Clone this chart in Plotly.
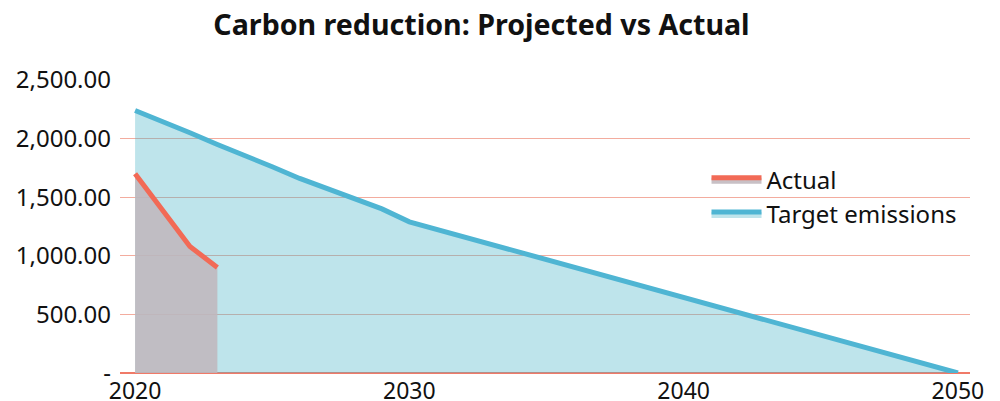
import plotly.graph_objects as go

years_target = list(range(2020, 2051))
target_emissions = [2240, 2150, 2050, 1950, 1860, 1760, 1660, 1570, 1485, 1400, 1290,
                    1225, 1160, 1095, 1030, 965, 900, 835, 770, 705, 640,
                    575, 510, 450, 385, 320, 255, 190, 125, 65, 0]
years_actual = [2020, 2021, 2022, 2023]
actual = [1700, 1390, 1080, 900]

y_tickvals = [0, 500, 1000, 1500, 2000, 2500]
y_ticktext = ["-", "500.00", "1,000.00", "1,500.00", "2,000.00", "2,500.00"]
x_tickvals = [2020, 2030, 2040, 2050]

fig = go.Figure()
fig.add_trace(go.Scatter(
    x=years_target, y=target_emissions, name="Target emissions", mode="lines",
    line=dict(color="#4fb5d3", width=5), fill="tozeroy",
    fillcolor="rgba(75,180,199,0.36)", legendrank=2))
fig.add_trace(go.Scatter(
    x=years_actual, y=actual, name="Actual", mode="lines",
    line=dict(color="#f26a56", width=5), fill="tozeroy",
    fillcolor="rgba(192,183,189,0.88)", legendrank=1))

fig.update_layout(
    width=1000, height=401,
    margin=dict(l=112, r=38, t=72, b=36),
    paper_bgcolor="white", plot_bgcolor="white",
    font=dict(family="Noto Sans", size=24, color="#111111"),
    title=dict(text="<b>Carbon reduction: Projected vs Actual</b>", x=0.4735, xanchor="center",
               y=0.958, yanchor="middle", font=dict(size=28.6, family="Noto Sans", color="#111111")),
    showlegend=True,
    legend=dict(x=0.69, y=0.735, xanchor="left", yanchor="top", font=dict(size=24),
                bgcolor="rgba(0,0,0,0)", tracegroupgap=0, itemwidth=50),
    xaxis=dict(range=[2019.45, 2050.44], tickvals=x_tickvals, showgrid=False, zeroline=False,
               showline=False, ticks="", tickfont=dict(size=23), ticklabelstandoff=2,
               automargin=False),
    yaxis=dict(range=[0, 2500], tickvals=y_tickvals, ticktext=y_ticktext, showgrid=True,
               gridcolor="rgba(238,140,120,0.72)", gridwidth=1, zeroline=True,
               zerolinecolor="#f07a68", zerolinewidth=2, showline=False, ticks="",
               tickfont=dict(size=24), ticklabelstandoff=8, automargin=False),
)

fig.write_html("out.html")
